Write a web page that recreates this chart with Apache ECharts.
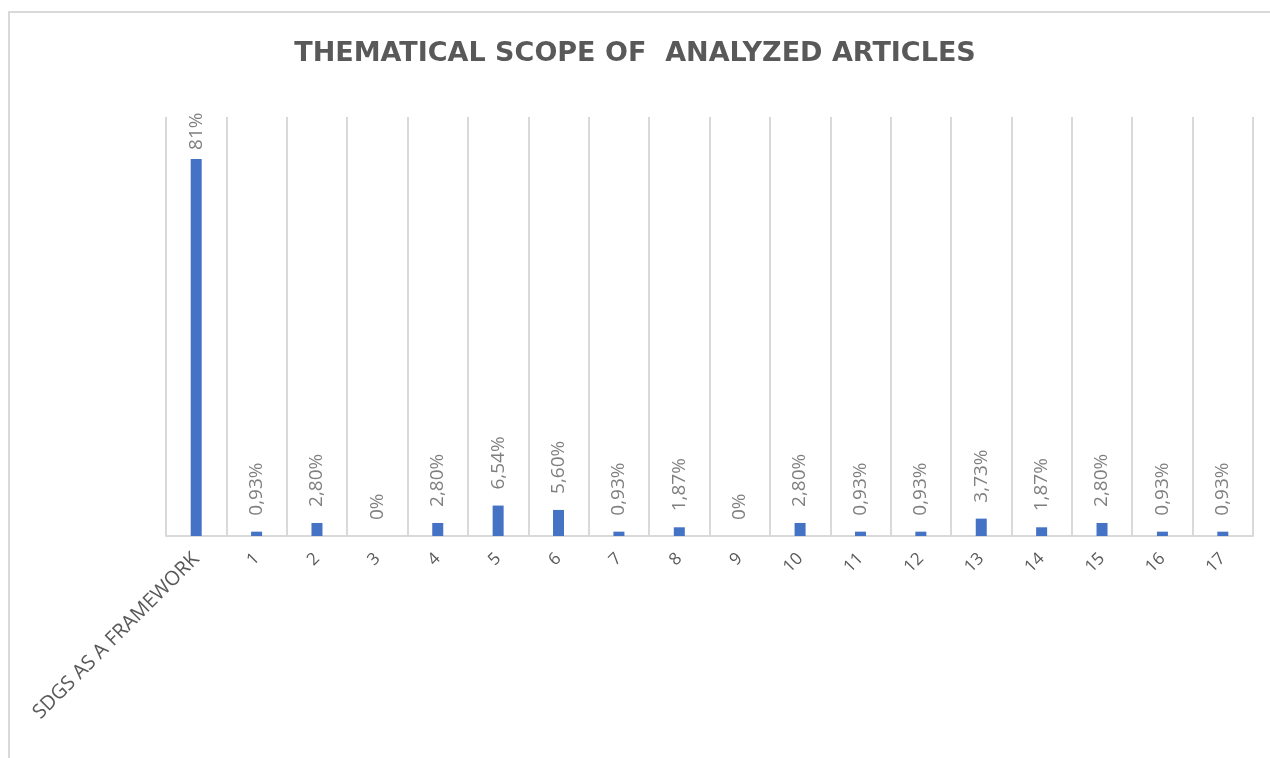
<!DOCTYPE html>
<html>
<head>
<meta charset="utf-8">
<script src="https://cdn.jsdelivr.net/npm/echarts@6/dist/echarts.min.js"></script>
<style>html,body{margin:0;padding:0;background:#fff;}#c{width:1270px;height:758px;}</style>
</head>
<body>
<div id="c"></div>
<script>
const titleText = 'THEMATICAL SCOPE OF  ANALYZED ARTICLES';
const categories = ['SDGS AS A FRAMEWORK','1','2','3','4','5','6','7','8','9','10','11','12','13','14','15','16','17'];
const values = [81, 0.93, 2.80, 0, 2.80, 6.54, 5.60, 0.93, 1.87, 0, 2.80, 0.93, 0.93, 3.73, 1.87, 2.80, 0.93, 0.93];
const valueLabels = ['81%','0,93%','2,80%','0%','2,80%','6,54%','5,60%','0,93%','1,87%','0%','2,80%','0,93%','0,93%','3,73%','1,87%','2,80%','0,93%','0,93%'];

const seriesData = values.map((v, i) => i === 0 ? { value: v, label: { distance: 9 } } : v);

const chart = echarts.init(document.getElementById('c'));
chart.setOption({
  animation: false,
  backgroundColor: '#fff',
  graphic: [{
    type: 'polyline', silent: true,
    shape: { points: [[9, 900], [9, 12], [1400, 12]] },
    style: { fill: 'none', stroke: '#d9d9d9', lineWidth: 2 }
  }],
  title: {
    text: titleText, left: 'center', top: 35,
    textStyle: { fontFamily: 'DejaVu Sans', fontWeight: 'bold', fontSize: 27, color: '#595959' }
  },
  grid: { left: 166, right: 17, top: 117, bottom: 222 },
  xAxis: {
    type: 'category', data: categories,
    axisLine: { lineStyle: { color: '#d9d9d9', width: 2 } },
    axisTick: { show: false },
    splitLine: { show: true, lineStyle: { color: '#d9d9d9', width: 2 } },
    axisLabel: {
      rotate: 45, interval: 0, margin: 20, color: '#595959', fontFamily: 'Open Sans', fontSize: 17,
      formatter: (v, i) => i === 0 ? '{big|' + v + '}' : v,
      rich: { big: { fontSize: 20, fontFamily: 'Open Sans', color: '#595959' } }
    }
  },
  yAxis: {
    type: 'value', min: 0, max: 90, show: false,
    splitLine: { show: false }
  },
  series: [{
    type: 'bar', data: seriesData, barWidth: 11,
    itemStyle: { color: '#4472C4' },
    label: {
      show: true, position: 'top', rotate: 90, distance: 16,
      align: 'left', verticalAlign: 'middle',
      formatter: p => valueLabels[p.dataIndex],
      color: '#7f7f7f', fontFamily: 'Open Sans', fontSize: 19
    }
  }]
});
</script>
</body>
</html>
